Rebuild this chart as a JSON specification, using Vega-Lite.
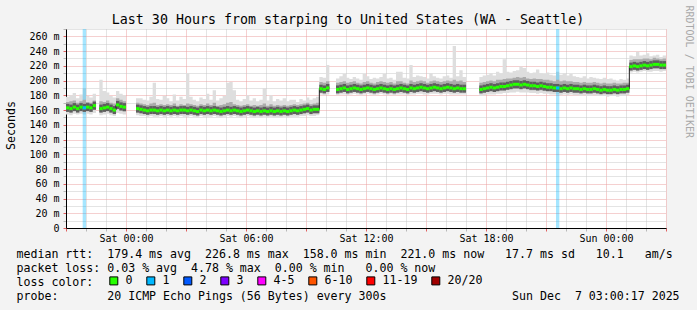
{
  "$schema": "https://vega.github.io/schema/vega-lite/v6.json",
  "width": 600,
  "height": 199,
  "autosize": {"type": "none"},
  "padding": {"left": 66, "top": 29, "right": 31, "bottom": 82},
  "background": "#f3f3f3",
  "title": {
    "text": "Last 30 Hours from starping to United States (WA - Seattle)",
    "font": "DejaVu Sans Mono", "fontSize": 13.3, "fontWeight": "normal", "color": "black",
    "anchor": "middle", "frame": "group", "dx": -18, "dy": 25
  },
  "datasets": {
    "loss": [
      {"start": "2025-12-05T21:50", "end": "2025-12-05T22:00", "loss": "1", "m": 163},
      {"start": "2025-12-06T21:30", "end": "2025-12-06T21:40", "loss": "1", "m": 190}
    ],
    "smoke": [
      {"t":"2025-12-05T21:00","s":1,"m":163,"lo":154,"q1":158,"q3":171,"hi":178},
      {"t":"2025-12-05T21:10","s":1,"m":162,"lo":153,"q1":157,"q3":172,"hi":180},
      {"t":"2025-12-05T21:20","s":1,"m":164,"lo":155,"q1":159,"q3":173,"hi":183},
      {"t":"2025-12-05T21:30","s":1,"m":162,"lo":154,"q1":158,"q3":170,"hi":176},
      {"t":"2025-12-05T21:40","s":1,"m":164,"lo":155,"q1":159,"q3":172,"hi":181},
      {"t":"2025-12-05T21:50","s":1,"m":163,"lo":154,"q1":158,"q3":174,"hi":190},
      {"t":"2025-12-05T22:00","s":1,"m":164,"lo":155,"q1":159,"q3":171,"hi":179},
      {"t":"2025-12-05T22:10","s":1,"m":163,"lo":154,"q1":158,"q3":170,"hi":177},
      {"t":"2025-12-05T22:20","s":1,"m":166,"lo":156,"q1":160,"q3":173,"hi":182},
      {"t":"2025-12-05T22:30","s":1,"m":166,"lo":156,"q1":160,"q3":173,"hi":182,"end":true},
      {"t":"2025-12-05T22:40","s":2,"m":162,"lo":153,"q1":157,"q3":172,"hi":201},
      {"t":"2025-12-05T22:50","s":2,"m":163,"lo":154,"q1":158,"q3":171,"hi":186},
      {"t":"2025-12-05T23:00","s":2,"m":164,"lo":155,"q1":159,"q3":173,"hi":184},
      {"t":"2025-12-05T23:10","s":2,"m":162,"lo":153,"q1":157,"q3":170,"hi":179},
      {"t":"2025-12-05T23:20","s":2,"m":160,"lo":152,"q1":156,"q3":169,"hi":177},
      {"t":"2025-12-05T23:30","s":2,"m":167,"lo":156,"q1":161,"q3":176,"hi":186},
      {"t":"2025-12-05T23:40","s":2,"m":165,"lo":155,"q1":159,"q3":174,"hi":182},
      {"t":"2025-12-05T23:50","s":2,"m":164,"lo":154,"q1":158,"q3":172,"hi":180},
      {"t":"2025-12-06T00:00","s":2,"m":164,"lo":154,"q1":158,"q3":172,"hi":180,"end":true},
      {"t":"2025-12-06T00:30","s":3,"m":162,"lo":153,"q1":157,"q3":170,"hi":176},
      {"t":"2025-12-06T00:40","s":3,"m":161,"lo":152,"q1":156,"q3":169,"hi":176},
      {"t":"2025-12-06T00:50","s":3,"m":160,"lo":152,"q1":156,"q3":168,"hi":174},
      {"t":"2025-12-06T01:00","s":3,"m":159,"lo":151,"q1":155,"q3":167,"hi":173},
      {"t":"2025-12-06T01:10","s":3,"m":160,"lo":152,"q1":156,"q3":169,"hi":178},
      {"t":"2025-12-06T01:20","s":3,"m":160,"lo":151,"q1":156,"q3":170,"hi":197},
      {"t":"2025-12-06T01:30","s":3,"m":159,"lo":151,"q1":155,"q3":167,"hi":175},
      {"t":"2025-12-06T01:40","s":3,"m":160,"lo":152,"q1":155,"q3":168,"hi":174},
      {"t":"2025-12-06T01:50","s":3,"m":159,"lo":151,"q1":155,"q3":167,"hi":179},
      {"t":"2025-12-06T02:00","s":3,"m":160,"lo":152,"q1":156,"q3":168,"hi":176},
      {"t":"2025-12-06T02:10","s":3,"m":159,"lo":151,"q1":155,"q3":167,"hi":172},
      {"t":"2025-12-06T02:20","s":3,"m":160,"lo":152,"q1":156,"q3":169,"hi":181},
      {"t":"2025-12-06T02:30","s":3,"m":159,"lo":151,"q1":155,"q3":166,"hi":173},
      {"t":"2025-12-06T02:40","s":3,"m":160,"lo":152,"q1":156,"q3":168,"hi":178},
      {"t":"2025-12-06T02:50","s":3,"m":160,"lo":151,"q1":155,"q3":167,"hi":175},
      {"t":"2025-12-06T03:00","s":3,"m":159,"lo":151,"q1":155,"q3":169,"hi":210},
      {"t":"2025-12-06T03:10","s":3,"m":160,"lo":152,"q1":156,"q3":168,"hi":178},
      {"t":"2025-12-06T03:20","s":3,"m":159,"lo":151,"q1":155,"q3":167,"hi":174},
      {"t":"2025-12-06T03:30","s":3,"m":158,"lo":150,"q1":154,"q3":166,"hi":172},
      {"t":"2025-12-06T03:40","s":3,"m":160,"lo":152,"q1":156,"q3":168,"hi":177},
      {"t":"2025-12-06T03:50","s":3,"m":159,"lo":151,"q1":155,"q3":167,"hi":175},
      {"t":"2025-12-06T04:00","s":3,"m":160,"lo":151,"q1":155,"q3":169,"hi":182},
      {"t":"2025-12-06T04:10","s":3,"m":159,"lo":151,"q1":155,"q3":167,"hi":174},
      {"t":"2025-12-06T04:20","s":3,"m":160,"lo":152,"q1":156,"q3":170,"hi":187},
      {"t":"2025-12-06T04:30","s":3,"m":159,"lo":151,"q1":155,"q3":166,"hi":173},
      {"t":"2025-12-06T04:40","s":3,"m":158,"lo":150,"q1":154,"q3":167,"hi":176},
      {"t":"2025-12-06T04:50","s":3,"m":159,"lo":151,"q1":155,"q3":168,"hi":179},
      {"t":"2025-12-06T05:00","s":3,"m":160,"lo":152,"q1":156,"q3":170,"hi":197},
      {"t":"2025-12-06T05:10","s":3,"m":159,"lo":151,"q1":155,"q3":171,"hi":198},
      {"t":"2025-12-06T05:20","s":3,"m":160,"lo":152,"q1":156,"q3":168,"hi":187},
      {"t":"2025-12-06T05:30","s":3,"m":159,"lo":151,"q1":155,"q3":167,"hi":174},
      {"t":"2025-12-06T05:40","s":3,"m":158,"lo":150,"q1":154,"q3":166,"hi":172},
      {"t":"2025-12-06T05:50","s":3,"m":159,"lo":151,"q1":155,"q3":167,"hi":175},
      {"t":"2025-12-06T06:00","s":3,"m":160,"lo":152,"q1":156,"q3":168,"hi":180},
      {"t":"2025-12-06T06:10","s":3,"m":159,"lo":151,"q1":155,"q3":166,"hi":173},
      {"t":"2025-12-06T06:20","s":3,"m":158,"lo":150,"q1":154,"q3":167,"hi":176},
      {"t":"2025-12-06T06:30","s":3,"m":159,"lo":151,"q1":155,"q3":166,"hi":172},
      {"t":"2025-12-06T06:40","s":3,"m":158,"lo":150,"q1":154,"q3":167,"hi":174},
      {"t":"2025-12-06T06:50","s":3,"m":159,"lo":151,"q1":155,"q3":169,"hi":190},
      {"t":"2025-12-06T07:00","s":3,"m":158,"lo":150,"q1":154,"q3":166,"hi":173},
      {"t":"2025-12-06T07:10","s":3,"m":159,"lo":151,"q1":155,"q3":168,"hi":180},
      {"t":"2025-12-06T07:20","s":3,"m":158,"lo":150,"q1":154,"q3":166,"hi":172},
      {"t":"2025-12-06T07:30","s":3,"m":159,"lo":150,"q1":154,"q3":167,"hi":175},
      {"t":"2025-12-06T07:40","s":3,"m":158,"lo":150,"q1":154,"q3":166,"hi":173},
      {"t":"2025-12-06T07:50","s":3,"m":159,"lo":151,"q1":155,"q3":167,"hi":176},
      {"t":"2025-12-06T08:00","s":3,"m":158,"lo":150,"q1":154,"q3":166,"hi":172},
      {"t":"2025-12-06T08:10","s":3,"m":159,"lo":151,"q1":155,"q3":167,"hi":174},
      {"t":"2025-12-06T08:20","s":3,"m":160,"lo":151,"q1":155,"q3":168,"hi":174},
      {"t":"2025-12-06T08:30","s":3,"m":159,"lo":151,"q1":155,"q3":167,"hi":171},
      {"t":"2025-12-06T08:40","s":3,"m":160,"lo":152,"q1":156,"q3":168,"hi":175},
      {"t":"2025-12-06T08:50","s":3,"m":161,"lo":152,"q1":156,"q3":169,"hi":173},
      {"t":"2025-12-06T09:00","s":3,"m":162,"lo":153,"q1":157,"q3":170,"hi":177},
      {"t":"2025-12-06T09:10","s":3,"m":160,"lo":152,"q1":156,"q3":168,"hi":174},
      {"t":"2025-12-06T09:20","s":3,"m":161,"lo":152,"q1":156,"q3":169,"hi":176},
      {"t":"2025-12-06T09:30","s":3,"m":161,"lo":153,"q1":157,"q3":170,"hi":178},
      {"t":"2025-12-06T09:40","s":3,"m":189,"lo":181,"q1":185,"q3":198,"hi":205},
      {"t":"2025-12-06T09:50","s":3,"m":188,"lo":180,"q1":184,"q3":197,"hi":204},
      {"t":"2025-12-06T10:00","s":3,"m":190,"lo":181,"q1":185,"q3":199,"hi":221},
      {"t":"2025-12-06T10:10","s":3,"m":190,"lo":181,"q1":185,"q3":199,"hi":221,"end":true},
      {"t":"2025-12-06T10:30","s":4,"m":188,"lo":180,"q1":184,"q3":197,"hi":203},
      {"t":"2025-12-06T10:40","s":4,"m":189,"lo":181,"q1":185,"q3":198,"hi":206},
      {"t":"2025-12-06T10:50","s":4,"m":190,"lo":181,"q1":185,"q3":199,"hi":209},
      {"t":"2025-12-06T11:00","s":4,"m":188,"lo":180,"q1":184,"q3":197,"hi":204},
      {"t":"2025-12-06T11:10","s":4,"m":189,"lo":181,"q1":185,"q3":198,"hi":202},
      {"t":"2025-12-06T11:20","s":4,"m":190,"lo":182,"q1":186,"q3":199,"hi":205},
      {"t":"2025-12-06T11:30","s":4,"m":189,"lo":181,"q1":185,"q3":197,"hi":203},
      {"t":"2025-12-06T11:40","s":4,"m":188,"lo":180,"q1":184,"q3":196,"hi":201},
      {"t":"2025-12-06T11:50","s":4,"m":189,"lo":181,"q1":185,"q3":198,"hi":209},
      {"t":"2025-12-06T12:00","s":4,"m":190,"lo":182,"q1":186,"q3":199,"hi":206},
      {"t":"2025-12-06T12:10","s":4,"m":189,"lo":181,"q1":185,"q3":197,"hi":202},
      {"t":"2025-12-06T12:20","s":4,"m":188,"lo":180,"q1":184,"q3":196,"hi":204},
      {"t":"2025-12-06T12:30","s":4,"m":189,"lo":181,"q1":185,"q3":198,"hi":203},
      {"t":"2025-12-06T12:40","s":4,"m":190,"lo":182,"q1":186,"q3":199,"hi":205},
      {"t":"2025-12-06T12:50","s":4,"m":189,"lo":181,"q1":185,"q3":198,"hi":209},
      {"t":"2025-12-06T13:00","s":4,"m":188,"lo":180,"q1":184,"q3":197,"hi":203},
      {"t":"2025-12-06T13:10","s":4,"m":189,"lo":181,"q1":185,"q3":198,"hi":204},
      {"t":"2025-12-06T13:20","s":4,"m":188,"lo":180,"q1":184,"q3":196,"hi":201},
      {"t":"2025-12-06T13:30","s":4,"m":189,"lo":181,"q1":185,"q3":199,"hi":212},
      {"t":"2025-12-06T13:40","s":4,"m":190,"lo":181,"q1":185,"q3":199,"hi":212},
      {"t":"2025-12-06T13:50","s":4,"m":189,"lo":181,"q1":185,"q3":197,"hi":204},
      {"t":"2025-12-06T14:00","s":4,"m":188,"lo":180,"q1":184,"q3":196,"hi":203},
      {"t":"2025-12-06T14:10","s":4,"m":190,"lo":181,"q1":185,"q3":200,"hi":221},
      {"t":"2025-12-06T14:20","s":4,"m":189,"lo":181,"q1":185,"q3":198,"hi":205},
      {"t":"2025-12-06T14:30","s":4,"m":190,"lo":182,"q1":186,"q3":199,"hi":207},
      {"t":"2025-12-06T14:40","s":4,"m":191,"lo":182,"q1":186,"q3":200,"hi":206},
      {"t":"2025-12-06T14:50","s":4,"m":190,"lo":181,"q1":185,"q3":199,"hi":205},
      {"t":"2025-12-06T15:00","s":4,"m":189,"lo":181,"q1":185,"q3":197,"hi":203},
      {"t":"2025-12-06T15:10","s":4,"m":190,"lo":182,"q1":186,"q3":199,"hi":210},
      {"t":"2025-12-06T15:20","s":4,"m":191,"lo":182,"q1":186,"q3":200,"hi":206},
      {"t":"2025-12-06T15:30","s":4,"m":190,"lo":182,"q1":186,"q3":199,"hi":204},
      {"t":"2025-12-06T15:40","s":4,"m":189,"lo":181,"q1":185,"q3":198,"hi":203},
      {"t":"2025-12-06T15:50","s":4,"m":190,"lo":182,"q1":186,"q3":199,"hi":206},
      {"t":"2025-12-06T16:00","s":4,"m":191,"lo":182,"q1":186,"q3":200,"hi":207},
      {"t":"2025-12-06T16:10","s":4,"m":190,"lo":181,"q1":185,"q3":199,"hi":204},
      {"t":"2025-12-06T16:20","s":4,"m":189,"lo":181,"q1":185,"q3":201,"hi":247},
      {"t":"2025-12-06T16:30","s":4,"m":190,"lo":181,"q1":185,"q3":199,"hi":206},
      {"t":"2025-12-06T16:40","s":4,"m":189,"lo":181,"q1":185,"q3":200,"hi":214},
      {"t":"2025-12-06T16:50","s":4,"m":189,"lo":181,"q1":185,"q3":198,"hi":205},
      {"t":"2025-12-06T17:00","s":4,"m":189,"lo":181,"q1":185,"q3":198,"hi":205,"end":true},
      {"t":"2025-12-06T17:40","s":5,"m":188,"lo":179,"q1":183,"q3":197,"hi":205},
      {"t":"2025-12-06T17:50","s":5,"m":189,"lo":180,"q1":184,"q3":198,"hi":207},
      {"t":"2025-12-06T18:00","s":5,"m":190,"lo":181,"q1":185,"q3":199,"hi":208},
      {"t":"2025-12-06T18:10","s":5,"m":191,"lo":181,"q1":186,"q3":200,"hi":210},
      {"t":"2025-12-06T18:20","s":5,"m":190,"lo":181,"q1":185,"q3":199,"hi":207},
      {"t":"2025-12-06T18:30","s":5,"m":191,"lo":182,"q1":186,"q3":201,"hi":212},
      {"t":"2025-12-06T18:40","s":5,"m":192,"lo":182,"q1":187,"q3":201,"hi":210},
      {"t":"2025-12-06T18:50","s":5,"m":192,"lo":183,"q1":187,"q3":202,"hi":229},
      {"t":"2025-12-06T19:00","s":5,"m":193,"lo":183,"q1":188,"q3":203,"hi":212},
      {"t":"2025-12-06T19:10","s":5,"m":194,"lo":184,"q1":188,"q3":203,"hi":211},
      {"t":"2025-12-06T19:20","s":5,"m":195,"lo":184,"q1":189,"q3":204,"hi":213},
      {"t":"2025-12-06T19:30","s":5,"m":195,"lo":185,"q1":189,"q3":205,"hi":214},
      {"t":"2025-12-06T19:40","s":5,"m":194,"lo":184,"q1":188,"q3":204,"hi":219},
      {"t":"2025-12-06T19:50","s":5,"m":195,"lo":184,"q1":189,"q3":205,"hi":217},
      {"t":"2025-12-06T20:00","s":5,"m":194,"lo":184,"q1":188,"q3":203,"hi":212},
      {"t":"2025-12-06T20:10","s":5,"m":193,"lo":183,"q1":187,"q3":202,"hi":210},
      {"t":"2025-12-06T20:20","s":5,"m":193,"lo":183,"q1":187,"q3":203,"hi":211},
      {"t":"2025-12-06T20:30","s":5,"m":192,"lo":182,"q1":187,"q3":202,"hi":215},
      {"t":"2025-12-06T20:40","s":5,"m":193,"lo":183,"q1":187,"q3":202,"hi":210},
      {"t":"2025-12-06T20:50","s":5,"m":192,"lo":182,"q1":186,"q3":201,"hi":209},
      {"t":"2025-12-06T21:00","s":5,"m":191,"lo":182,"q1":186,"q3":201,"hi":211},
      {"t":"2025-12-06T21:10","s":5,"m":191,"lo":181,"q1":186,"q3":200,"hi":208},
      {"t":"2025-12-06T21:20","s":5,"m":190,"lo":181,"q1":185,"q3":199,"hi":207},
      {"t":"2025-12-06T21:30","s":5,"m":190,"lo":181,"q1":185,"q3":201,"hi":212},
      {"t":"2025-12-06T21:40","s":5,"m":189,"lo":180,"q1":184,"q3":199,"hi":208},
      {"t":"2025-12-06T21:50","s":5,"m":190,"lo":181,"q1":185,"q3":200,"hi":210},
      {"t":"2025-12-06T22:00","s":5,"m":189,"lo":180,"q1":184,"q3":199,"hi":207},
      {"t":"2025-12-06T22:10","s":5,"m":190,"lo":181,"q1":185,"q3":199,"hi":209},
      {"t":"2025-12-06T22:20","s":5,"m":189,"lo":180,"q1":184,"q3":198,"hi":206},
      {"t":"2025-12-06T22:30","s":5,"m":189,"lo":180,"q1":184,"q3":198,"hi":205},
      {"t":"2025-12-06T22:40","s":5,"m":188,"lo":179,"q1":183,"q3":197,"hi":204},
      {"t":"2025-12-06T22:50","s":5,"m":189,"lo":180,"q1":184,"q3":198,"hi":206},
      {"t":"2025-12-06T23:00","s":5,"m":188,"lo":179,"q1":183,"q3":197,"hi":203},
      {"t":"2025-12-06T23:10","s":5,"m":188,"lo":179,"q1":183,"q3":197,"hi":205},
      {"t":"2025-12-06T23:20","s":5,"m":189,"lo":180,"q1":184,"q3":198,"hi":204},
      {"t":"2025-12-06T23:30","s":5,"m":188,"lo":179,"q1":183,"q3":197,"hi":203},
      {"t":"2025-12-06T23:40","s":5,"m":187,"lo":179,"q1":183,"q3":196,"hi":202},
      {"t":"2025-12-06T23:50","s":5,"m":188,"lo":179,"q1":183,"q3":197,"hi":204},
      {"t":"2025-12-07T00:00","s":5,"m":187,"lo":178,"q1":182,"q3":196,"hi":202},
      {"t":"2025-12-07T00:10","s":5,"m":187,"lo":179,"q1":182,"q3":196,"hi":203},
      {"t":"2025-12-07T00:20","s":5,"m":188,"lo":179,"q1":183,"q3":197,"hi":201},
      {"t":"2025-12-07T00:30","s":5,"m":187,"lo":178,"q1":182,"q3":196,"hi":200},
      {"t":"2025-12-07T00:40","s":5,"m":188,"lo":179,"q1":183,"q3":196,"hi":202},
      {"t":"2025-12-07T00:50","s":5,"m":188,"lo":179,"q1":183,"q3":197,"hi":201},
      {"t":"2025-12-07T01:00","s":5,"m":189,"lo":180,"q1":184,"q3":197,"hi":203},
      {"t":"2025-12-07T01:10","s":5,"m":219,"lo":211,"q1":215,"q3":228,"hi":234},
      {"t":"2025-12-07T01:20","s":5,"m":220,"lo":212,"q1":216,"q3":229,"hi":233},
      {"t":"2025-12-07T01:30","s":5,"m":219,"lo":211,"q1":215,"q3":229,"hi":239},
      {"t":"2025-12-07T01:40","s":5,"m":220,"lo":212,"q1":216,"q3":229,"hi":234},
      {"t":"2025-12-07T01:50","s":5,"m":221,"lo":213,"q1":217,"q3":230,"hi":235},
      {"t":"2025-12-07T02:00","s":5,"m":220,"lo":212,"q1":216,"q3":230,"hi":237},
      {"t":"2025-12-07T02:10","s":5,"m":221,"lo":212,"q1":217,"q3":229,"hi":233},
      {"t":"2025-12-07T02:20","s":5,"m":222,"lo":213,"q1":218,"q3":231,"hi":234},
      {"t":"2025-12-07T02:30","s":5,"m":222,"lo":213,"q1":217,"q3":230,"hi":235},
      {"t":"2025-12-07T02:40","s":5,"m":221,"lo":212,"q1":217,"q3":229,"hi":232},
      {"t":"2025-12-07T02:50","s":5,"m":221,"lo":213,"q1":217,"q3":230,"hi":234},
      {"t":"2025-12-07T03:00","s":5,"m":221,"lo":213,"q1":217,"q3":230,"hi":234,"end":true}
    ]
  },
  "resolve": {"scale": {"y": "independent"}},
  "layer": [
    {
      "data": {"name": "smoke"},
      "mark": {"type": "area", "interpolate": "step-after", "color": "#dedede"},
      "encoding": {
        "x": {"field": "t", "type": "temporal",
              "scale": {"domain": [{"year": 2025, "month": 12, "date": 5, "hours": 21}, {"year": 2025, "month": 12, "date": 7, "hours": 3}]},
              "axis": {"orient": "bottom", "tickCount": 30, "grid": true,
                       "gridColor": {"condition": {"test": "hours(datum.value) % 3 == 0", "value": "#eba0a0"}, "value": "#c8c8c8"},
                       "gridDash": [1, 1],
                       "ticks": true, "tickSize": 3,
                       "tickColor": {"condition": {"test": "hours(datum.value) % 3 == 0", "value": "#e06060"}, "value": "#b8b8b8"},
                       "labelExpr": "hours(datum.value) % 6 == 0 ? timeFormat(datum.value, '%a %H:%M') : ''",
                       "labelFont": "DejaVu Sans Mono", "labelFontSize": 10, "labelColor": "black", "labelPadding": 2,
                       "labelOverlap": false, "labelFlush": false, "labelBound": false,
                       "domain": true, "domainColor": "black", "domainWidth": 1,
                       "title": [
                         "median\u00a0rtt:\u00a0\u00a0179.4\u00a0ms\u00a0avg\u00a0\u00a0226.8\u00a0ms\u00a0max\u00a0\u00a0158.0\u00a0ms\u00a0min\u00a0\u00a0221.0\u00a0ms\u00a0now\u00a0\u00a0\u00a017.7\u00a0ms\u00a0sd\u00a0\u00a0\u00a010.1\u00a0\u00a0\u00a0am/s",
                         "packet\u00a0loss:\u00a00.03\u00a0%\u00a0avg\u00a0\u00a04.78\u00a0%\u00a0max\u00a0\u00a00.00\u00a0%\u00a0min\u00a0\u00a0\u00a00.00\u00a0%\u00a0now",
                         "loss\u00a0color:",
                         "probe:\u00a0\u00a0\u00a0\u00a0\u00a0\u00a0\u00a020\u00a0ICMP\u00a0Echo\u00a0Pings\u00a0(56\u00a0Bytes)\u00a0every\u00a0300s\u00a0\u00a0\u00a0\u00a0\u00a0\u00a0\u00a0\u00a0\u00a0\u00a0\u00a0\u00a0\u00a0\u00a0\u00a0\u00a0\u00a0\u00a0Sun\u00a0Dec\u00a0\u00a07\u00a003:00:17\u00a02025"
                       ],
                       "titleFont": "DejaVu Sans Mono", "titleFontSize": 11.6, "titleFontWeight": "normal", "titleColor": "black",
                       "titleAnchor": "start", "titleAlign": "left", "titleBaseline": "top", "titleX": -50, "titleY": 20,
                       "titleLineHeight": 14, "titleLimit": 2000}},
        "y": {"field": "lo", "type": "quantitative", "scale": {"domain": [0, 270]},
              "axis": {"orient": "left",
                       "values": [0, 10, 20, 30, 40, 50, 60, 70, 80, 90, 100, 110, 120, 130, 140, 150, 160, 170, 180, 190, 200, 210, 220, 230, 240, 250, 260, 270],
                       "grid": true,
                       "gridColor": {"condition": {"test": "datum.value % 20 == 0", "value": "#eba0a0"}, "value": "#c8c8c8"},
                       "gridDash": [1, 1],
                       "ticks": true, "tickSize": 3,
                       "tickColor": {"condition": {"test": "datum.value % 20 == 0", "value": "#e06060"}, "value": "#b8b8b8"},
                       "labelExpr": "datum.value % 20 != 0 || datum.value > 260 ? '' : (datum.value == 0 ? '0' : datum.value + ' m')",
                       "labelFont": "DejaVu Sans Mono", "labelFontSize": 10, "labelColor": "black", "labelPadding": 4,
                       "labelOverlap": false,
                       "domain": true, "domainColor": "black", "domainWidth": 1,
                       "title": "Seconds", "titleFont": "DejaVu Sans Mono", "titleFontSize": 11.6, "titleFontWeight": "normal",
                       "titleColor": "black", "titleX": -55, "titleY": 96, "titleAlign": "center", "titleBaseline": "middle", "titleAngle": -90}},
        "y2": {"field": "hi"},
        "detail": {"field": "s"}
      }
    },
    {
      "data": {"name": "loss"},
      "mark": {"type": "rect", "fillOpacity": 0.35},
      "encoding": {
        "x": {"field": "start", "type": "temporal"},
        "x2": {"field": "end"},
        "color": {
          "field": "loss", "type": "nominal",
          "scale": {"domain": ["0", "1", "2", "3", "4-5", "6-10", "11-19", "20/20"],
                    "range": ["#26ff00", "#00b8ff", "#0059ff", "#7e00ff", "#ff00ff", "#ff5500", "#ff0000", "#a00000"]},
          "legend": {
            "title": null, "orient": "none", "legendX": 42, "legendY": 246,
            "direction": "horizontal",
            "labelFont": "DejaVu Sans Mono", "labelFontSize": 11.6, "labelColor": "black", "labelOffset": 6,
            "symbolType": "square", "symbolSize": 64, "symbolStrokeColor": "black", "symbolStrokeWidth": 1,
            "symbolOpacity": 1, "columnPadding": 11
          }
        }
      }
    },
    {
      "data": {"name": "smoke"},
      "mark": {"type": "area", "interpolate": "step-after", "color": "#ababab"},
      "encoding": {
        "x": {"field": "t", "type": "temporal"},
        "y": {"field": "q1", "type": "quantitative", "scale": {"domain": [0, 270]}, "axis": null},
        "y2": {"field": "q3"},
        "detail": {"field": "s"}
      }
    },
    {
      "data": {"name": "smoke"},
      "transform": [{"filter": "!datum.end"}],
      "mark": {"type": "tick", "orient": "horizontal", "color": "#5e5e5e", "thickness": 8, "size": 3.4, "xOffset": 1.67, "opacity": 1},
      "encoding": {
        "x": {"field": "t", "type": "temporal"},
        "y": {"field": "m", "type": "quantitative", "scale": {"domain": [0, 270]}, "axis": null}
      }
    },
    {
      "data": {"name": "smoke"},
      "mark": {"type": "line", "interpolate": "step-after", "color": "#202020", "strokeWidth": 1},
      "encoding": {
        "x": {"field": "t", "type": "temporal"},
        "y": {"field": "m", "type": "quantitative", "scale": {"domain": [0, 270]},
              "axis": {"orient": "right", "labels": false, "ticks": false, "domain": false, "grid": false,
                       "title": "RRDTOOL / TOBI OETIKER", "titleFont": "DejaVu Sans Mono", "titleFontSize": 10,
                       "titleFontWeight": "normal", "titleColor": "#a8a8a8", "titleAngle": 90,
                       "titleX": 22, "titleY": -24, "titleAlign": "left", "titleBaseline": "middle"}},
        "detail": {"field": "s"}
      }
    },
    {
      "data": {"name": "smoke"},
      "transform": [{"filter": "!datum.end"}],
      "mark": {"type": "tick", "orient": "horizontal", "color": "#26ff00", "thickness": 3, "size": 3.4, "xOffset": 1.67, "opacity": 1},
      "encoding": {
        "x": {"field": "t", "type": "temporal"},
        "y": {"field": "m", "type": "quantitative", "scale": {"domain": [0, 270]}, "axis": null}
      }
    },
    {
      "data": {"name": "loss"},
      "mark": {"type": "tick", "orient": "horizontal", "thickness": 3, "size": 3.4, "xOffset": 1.67, "opacity": 1},
      "encoding": {
        "x": {"field": "start", "type": "temporal"},
        "y": {"field": "m", "type": "quantitative", "scale": {"domain": [0, 270]}, "axis": null},
        "fill": {"field": "loss", "type": "nominal", "legend": null,
                 "scale": {"domain": ["0", "1", "2", "3", "4-5", "6-10", "11-19", "20/20"],
                           "range": ["#26ff00", "#00b8ff", "#0059ff", "#7e00ff", "#ff00ff", "#ff5500", "#ff0000", "#a00000"]}}
      }
    }
  ],
  "config": {
    "view": {"fill": "white", "stroke": null},
    "font": "DejaVu Sans Mono"
  }
}
